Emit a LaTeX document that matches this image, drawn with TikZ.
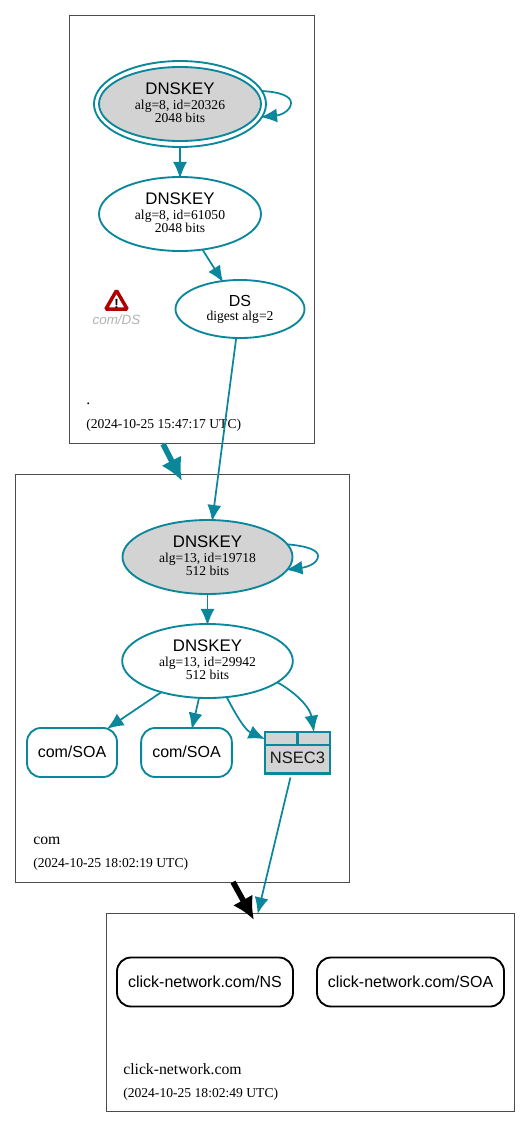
\documentclass[tikz,border=0pt]{standalone}
\usepackage{xcolor}
\usepackage{fontspec}
\usepackage{tikz}
\usetikzlibrary{arrows.meta,shapes.geometric}

\setmainfont{Liberation Serif}
\newfontfamily\helvfont{Liberation Sans}
\newcommand{\keyfont}{\helvfont\fontsize{12.6}{15}\selectfont}
\newcommand{\namefont}{\helvfont\fontsize{12}{14}\selectfont}
\newcommand{\detailfont}{\fontsize{10.2}{9.5}\selectfont}
\newcommand{\zonefont}{\fontsize{11.8}{14}\selectfont}
\newcommand{\keylines}[2]{{\keyfont DNSKEY}\\[-0.25pt]{\detailfont #1}\\[-2.3pt]{\detailfont #2\rule[-2.25pt]{0pt}{2.25pt}}}

\definecolor{dnsteal}{HTML}{0A879A}
\definecolor{dnsgray}{HTML}{D3D3D3}

\begin{document}
\begin{tikzpicture}[
				x=0.75pt,
				y=-0.75pt,
				zone/.style={
					rectangle,
					draw=black!70,
					line width=0.6pt,
					inner sep=0pt
				},
				dnskey/.style={
					ellipse,
					draw=dnsteal,
					line width=1.4pt,
					fill=white,
					inner sep=0pt,
					outer sep=0pt,
					align=center,
					text=black
				},
				rrset/.style={
					rectangle,
					rounded corners=10.5pt,
					draw=dnsteal,
					line width=1.4pt,
					fill=white,
					inner sep=0pt,
					outer sep=0pt,
					minimum height=36.75pt,
					font=\namefont
				},
				nsecpart/.style={
					rectangle,
					draw=dnsteal,
					line width=1.9pt,
					fill=dnsgray,
					inner sep=0pt
				},
				edge/.style={
					draw=dnsteal,
					line width=1.3pt,
					shorten >=-1.2pt,
					-{Latex[length=12.5pt,width=10.5pt]}
				},
				zoneedge/.style={
					line width=4.2pt,
					-{Latex[length=17pt,width=17pt]}
				},
				zonelabel/.style={
					anchor=base west,
					inner sep=0pt
				}
			]

				\useasboundingbox (0,0) rectangle (531,1128);

				\node[zone, minimum width=183.75pt, minimum height=321pt] (rootzone) at (192,229.5) {};
				\node[zone, minimum width=250pt, minimum height=306pt] (comzone) at (182.5,678.5) {};
				\node[zone, minimum width=305.5pt, minimum height=149pt] (clickzone) at (310.5,1012.5) {};

				\node[zonelabel, font=\zonefont] (rootname) at (86,404) {.};
				\node[zonelabel, font=\detailfont] (roottime) at (86,428) {(2024-10-25 15:47:17 UTC)};
				\node[zonelabel, font=\zonefont] (comname) at (33,844) {com};
				\node[zonelabel, font=\detailfont] (comtime) at (33,867) {(2024-10-25 18:02:19 UTC)};
				\node[zonelabel, font=\zonefont] (clickname) at (123,1074) {click-network.com};
				\node[zonelabel, font=\detailfont] (clicktime) at (123,1097) {(2024-10-25 18:02:49 UTC)};

				\node[dnskey, minimum width=129pt, minimum height=64.5pt] (rootkskouter) at (180,104) {};
				\node[dnskey, fill=dnsgray, minimum width=121.5pt, minimum height=55.5pt] (rootksk) at (180,104)
					{\keylines{alg=8, id=20326}{2048 bits}};
				\node[dnskey, minimum width=121.5pt, minimum height=55.5pt] (rootzsk) at (180,214)
					{\keylines{alg=8, id=61050}{2048 bits}};
				\node[dnskey, minimum width=96.75pt, minimum height=43.5pt] (comds) at (240,309)
					{{\namefont DS}\\[-1.5pt]{\detailfont digest alg=2}};

				\node[dnskey, fill=dnsgray, minimum width=127.5pt, minimum height=55.5pt] (comksk) at (207.5,557)
					{\keylines{alg=13, id=19718}{512 bits}};
				\node[dnskey, minimum width=128pt, minimum height=55.5pt] (comzsk) at (207.5,661)
					{\keylines{alg=13, id=29942}{512 bits}};

				\node[rrset, minimum width=67.5pt] (comsoaa) at (72,752.5) {\raisebox{0.8pt}{com/SOA}};
				\node[rrset, minimum width=68pt] (comsoab) at (186.5,752.5) {\raisebox{0.8pt}{com/SOA}};

				\node[nsecpart, minimum width=48.75pt, minimum height=22pt, font=\helvfont\fontsize{12.4}{14}\selectfont, text=black!90] (nsec) at (297.5,759) {\raisebox{1.5pt}{NSEC3}};
				\node[nsecpart, minimum width=24.4pt, minimum height=9.75pt] (nseccella) at (281.25,738.5) {};
				\node[nsecpart, minimum width=24.4pt, minimum height=9.75pt] (nseccellb) at (313.75,738.5) {};

				\node[rrset, draw=black, minimum width=132pt] (clickns) at (205,982) {\raisebox{0.8pt}{click-network.com/NS}};
				\node[rrset, draw=black, minimum width=140.25pt] (clicksoa) at (410.5,982) {\raisebox{0.8pt}{click-network.com/SOA}};

				% warning sign
				\node[
					isosceles triangle,
					isosceles triangle apex angle=60,
					shape border rotate=90,
					draw=red!70!black,
					line width=2.6pt,
					fill=white,
					inner sep=0pt,
					minimum height=14pt,
					rounded corners=1pt
				] (warnsign) at (116.5,303) {};
				\node[font=\helvfont\fontsize{10}{9}\selectfont\bfseries, inner sep=0pt] (warnmark) at (116.5,304) {!};
				\node[font=\helvfont\itshape\fontsize{10.1}{12}\selectfont, text=black!30, inner sep=0pt] (warnname) at (116.5,319.5) {com/DS};

				\coordinate (rootexit) at (163,444);
				\coordinate (comenter) at (182,481);
				\coordinate (comexit) at (233,882);
				\coordinate (clickenter) at (254,920);
				\coordinate (clicktop) at (258,912.5);

				\draw[edge] (rootkskouter.9) .. controls (280,92) and (291,96) .. (291,103)
					.. controls (291,110) and (282,115) .. (rootkskouter.-9);
				\draw[edge] (rootkskouter) to (rootzsk);
				\draw[edge] (rootzsk) to (comds);
				\draw[edge] (comds) to (comksk);

				\draw[edge] (comksk.9) .. controls (307,546) and (318,550) .. (318,556)
					.. controls (318,563) and (308,567) .. (comksk.-9);
				\draw[edge] (comksk) to (comzsk);
				\draw[edge] (comzsk) to (comsoaa);
				\draw[edge] (comzsk) to (comsoab);
				\draw[edge] (comzsk.-62) .. controls (236,715) and (245,730) .. (nseccella.west);
				\draw[edge] (comzsk.-17) .. controls (295,692) and (310,707) .. (nseccellb.north);
				\draw[edge, shorten <=2pt] (nsec.-112) to (clicktop);

				\draw[zoneedge, draw=dnsteal, fill=dnsteal] (rootexit) -- (comenter);
				\draw[zoneedge, draw=black, fill=black] (comexit) -- (clickenter);

			\end{tikzpicture}
\end{document}
